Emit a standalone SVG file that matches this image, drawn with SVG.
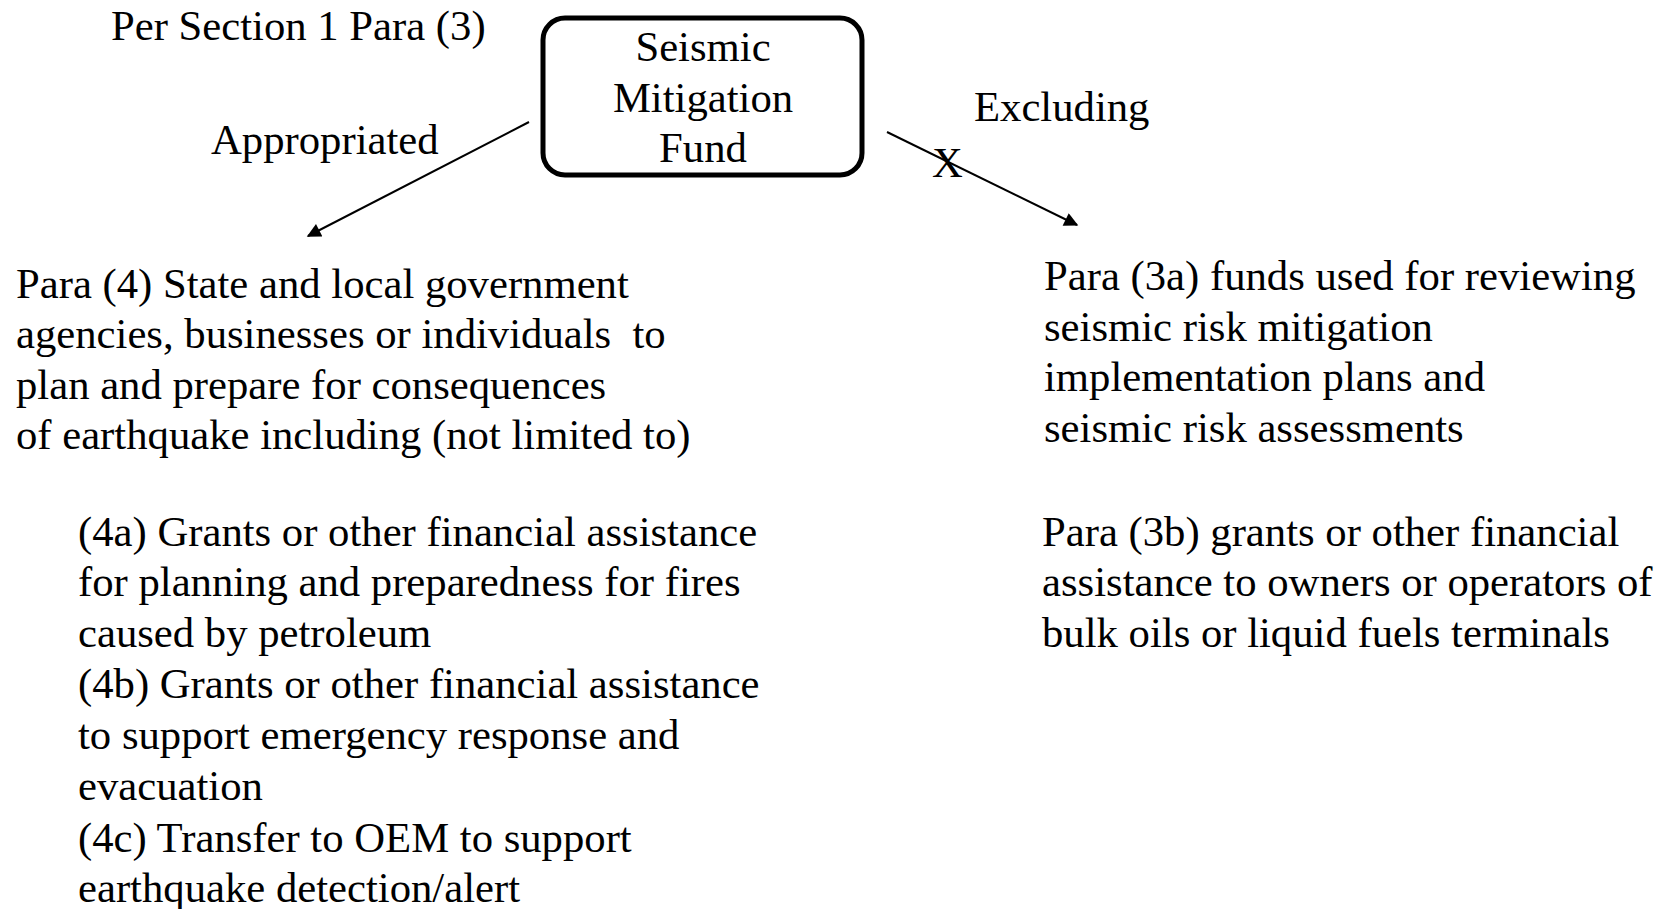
<svg xmlns="http://www.w3.org/2000/svg" width="1676" height="909" viewBox="0 0 1676 909">
<defs>
<style>
text{font-family:"Liberation Serif","Times New Roman",serif;font-size:42.7px;fill:#000;white-space:pre}
.mid{text-anchor:middle}
.conn{stroke:#000;stroke-width:2;fill:none}
</style>
<marker id="arrL" viewBox="0 0 10 10" refX="9" refY="5" markerWidth="18" markerHeight="14" markerUnits="userSpaceOnUse" orient="auto">
<path d="M0,0 L10,5 L0,10 z" fill="#000"/>
</marker>
</defs>
<rect width="1676" height="909" fill="#fff"/>
<g id="caption">
<text x="111" y="40">Per Section 1 Para (3)</text>
</g>
<g id="fund">
<rect x="543" y="18" width="319" height="157" rx="22" ry="22" fill="#fff" stroke="#000" stroke-width="5"/>
<text class="mid" x="703" y="61">Seismic</text>
<text class="mid" x="703" y="112">Mitigation</text>
<text class="mid" x="703" y="162">Fund</text>
</g>
<g id="connectors">
<line class="conn" x1="529" y1="122" x2="308" y2="236" marker-end="url(#arrL)"/>
<line class="conn" x1="887" y1="132" x2="1077" y2="225" marker-end="url(#arrL)"/>
<text x="211" y="154">Appropriated</text>
<text x="974" y="121">Excluding</text>
<text x="932" y="177">X</text>
</g>
<g id="appropriated">
<text x="16" y="298">Para (4) State and local government</text>
<text x="16" y="348" xml:space="preserve">agencies, businesses or individuals  to</text>
<text x="16" y="399">plan and prepare for consequences</text>
<text x="16" y="449">of earthquake including (not limited to)</text>
<text x="78" y="546">(4a) Grants or other financial assistance</text>
<text x="78" y="596">for planning and preparedness for fires</text>
<text x="78" y="647">caused by petroleum</text>
<text x="78" y="698">(4b) Grants or other financial assistance</text>
<text x="78" y="749">to support emergency response and</text>
<text x="78" y="800">evacuation</text>
<text x="78" y="852">(4c) Transfer to OEM to support</text>
<text x="78" y="902">earthquake detection/alert</text>
</g>
<g id="excluded">
<text x="1044" y="290">Para (3a) funds used for reviewing</text>
<text x="1044" y="341">seismic risk mitigation</text>
<text x="1044" y="391">implementation plans and</text>
<text x="1044" y="442">seismic risk assessments</text>
<text x="1042" y="546">Para (3b) grants or other financial</text>
<text x="1042" y="596">assistance to owners or operators of</text>
<text x="1042" y="647">bulk oils or liquid fuels terminals</text>
</g>
</svg>
